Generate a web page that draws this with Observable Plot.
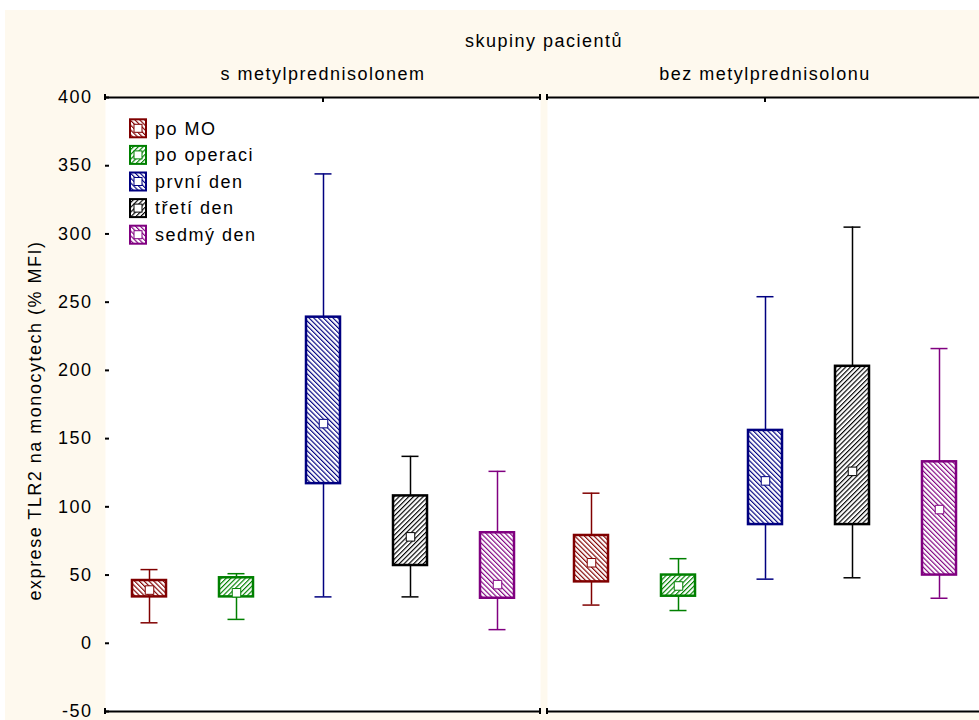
<!DOCTYPE html>
<html>
<head>
<meta charset="utf-8">
<script src="https://cdn.jsdelivr.net/npm/d3@7"></script>
<script src="https://cdn.jsdelivr.net/npm/@observablehq/plot@0.6"></script>
<style>
  html, body { margin: 0; padding: 0; background: #ffffff; overflow: hidden; width: 979px; height: 720px; }
  #chart { position: absolute; left: 5px; top: 10px; width: 974px; height: 710px; background: #fef9ee; overflow: hidden; }
  #chart > svg { max-width: none !important; background: transparent !important; overflow: visible; }
  #chart text { font-family: "Liberation Sans", Arial, sans-serif; font-size: 18px; letter-spacing: 1.5px; fill: #000; }
  #legend { position: absolute; left: 0; top: 0; pointer-events: none; }
</style>
</head>
<body>
<svg width="0" height="0" style="position:absolute"><defs id="hatches"></defs></svg>
<div id="chart"></div>
<script>
// Patient groups (facets) and sampling times (boxes within each facet)
const groups = ["s metylprednisolonem", "bez metylprednisolonu"];
const series = ["po MO", "po operaci", "první den", "třetí den", "sedmý den"];
const seriesColors = ["#800000", "#008000", "#000080", "#000000", "#800080"];
const hatchAngles = [-45, 45, -45, 45, -45];
const yLabel = "exprese TLR2 na monocytech (% MFI)";
const fxLabel = "skupiny pacientů";

// s metylprednisolonem: whisker low, box low, median, box high, whisker high
const sMin = [15, 17.5, 34, 34, 10];
const sQ1 = [34, 34, 117, 57, 33];
const sMedian = [39, 37, 161, 78, 43];
const sQ3 = [46, 48, 239, 108, 81];
const sMax = [54, 51, 344, 137, 126];

// bez metylprednisolonu
const bMin = [28, 24, 47, 48, 33];
const bQ1 = [45, 34.5, 87, 87, 50];
const bMedian = [59, 42, 119, 126, 98];
const bQ3 = [79, 50, 156, 203, 133];
const bMax = [110, 62, 254, 305, 216];

const yTicks = [-50, 0, 50, 100, 150, 200, 250, 300, 350, 400];

// Diagonal hatch fills, one per series
const defs = d3.select("#hatches");
seriesColors.forEach((c, i) => {
  const p = defs.append("pattern")
    .attr("id", `hatch-${i}`)
    .attr("patternUnits", "userSpaceOnUse")
    .attr("width", 3.4).attr("height", 3.4)
    .attr("patternTransform", `rotate(${hatchAngles[i]})`);
  p.append("rect").attr("width", 3.4).attr("height", 3.4).attr("fill", "#ffffff");
  p.append("rect").attr("width", 1.15).attr("height", 3.4).attr("fill", c);
});

const stats = [
  [sMin, sQ1, sMedian, sQ3, sMax],
  [bMin, bQ1, bMedian, bQ3, bMax]
];
const rows = [];
groups.forEach((g, gi) => {
  const [lo, q1, med, q3, hi] = stats[gi];
  series.forEach((s, si) => rows.push({
    group: g, series: s,
    lo: lo[si], q1: q1[si], med: med[si], q3: q3[si], hi: hi[si],
    color: seriesColors[si], pattern: `url(#hatch-${si})`
  }));
});

// Short marks where the top and bottom lines of each panel end
function panelBreaks(index, scales, values, dimensions) {
  const {width, height, marginLeft, marginRight, marginTop, marginBottom} = dimensions;
  const g = d3.create("svg:g").attr("stroke", "#000").attr("stroke-width", 2);
  for (const x of [marginLeft, width - marginRight]) {
    for (const y of [marginTop, height - marginBottom]) {
      g.append("line").attr("x1", x).attr("x2", x).attr("y1", y - 3).attr("y2", y + 3);
    }
  }
  return g.node();
}

const chart = Plot.plot({
  width: 979,
  height: 710,
  marginLeft: 100,
  marginRight: 2,
  marginTop: 87,
  marginBottom: 9,
  style: {background: "transparent", fontFamily: "'Liberation Sans', Arial, sans-serif", fontSize: "18px"},
  facet: {data: rows, x: "group"},
  fx: {domain: groups, paddingInner: 7 / 442, paddingOuter: 0, label: fxLabel},
  x: {domain: series, paddingInner: 0.61, paddingOuter: 0.305, axis: null},
  y: {domain: [yTicks[0], yTicks[yTicks.length - 1]], label: yLabel},
  color: {type: "identity"},
  marks: [
    Plot.frame({fill: "#ffffff", stroke: "none"}),
    Plot.ruleY([yTicks[0], yTicks[yTicks.length - 1]], {stroke: "#000", strokeWidth: 2}),
    panelBreaks,
    Plot.axisY({
      ticks: yTicks, tickSize: -4, tickPadding: 17, line: true, strokeWidth: 2,
      tickFormat: d => String(d), label: null
    }),
    Plot.text([yLabel], {
      text: d => d, frameAnchor: "left", textAnchor: "middle", lineAnchor: "middle",
      rotate: -90, dx: -70, dy: 16, facetAnchor: "left"
    }),
    Plot.axisFx({
      anchor: "top", tickSize: -4, tickPadding: 22, strokeWidth: 2,
      label: fxLabel, labelAnchor: "center", labelArrow: false, labelOffset: 63
    }),
    Plot.ruleX(rows, {x: "series", y1: "lo", y2: "hi", stroke: "color", strokeWidth: 1.5}),
    Plot.tickY(rows, {x: "series", y: "lo", stroke: "color", strokeWidth: 1.5, insetLeft: 8.5, insetRight: 8.5}),
    Plot.tickY(rows, {x: "series", y: "hi", stroke: "color", strokeWidth: 1.5, insetLeft: 8.5, insetRight: 8.5}),
    Plot.barY(rows, {x: "series", y1: "q1", y2: "q3", fill: "pattern", stroke: "color", strokeWidth: 2.5}),
    Plot.dot(rows, {x: "series", y: "med", symbol: "square", r: 4.8, fill: "#ffffff", stroke: "color", strokeWidth: 1})
  ]
});
document.getElementById("chart").appendChild(chart);

// Legend inside the left panel
const legend = d3.select("#chart").append("svg")
  .attr("id", "legend").attr("width", 320).attr("height", 260);
series.forEach((s, i) => {
  const cy = 118.3 + i * 26.6;
  const item = legend.append("g");
  item.append("rect")
    .attr("x", 125).attr("y", cy - 9).attr("width", 16).attr("height", 18)
    .attr("fill", `url(#hatch-${i})`).attr("stroke", seriesColors[i]).attr("stroke-width", 2);
  item.append("rect")
    .attr("x", 129).attr("y", cy - 4).attr("width", 8).attr("height", 8)
    .attr("fill", "#ffffff").attr("stroke", seriesColors[i]).attr("stroke-width", 1);
  item.append("text")
    .attr("x", 150).attr("y", cy).attr("dy", "0.35em")
    .text(s);
});
</script>
</body>
</html>
